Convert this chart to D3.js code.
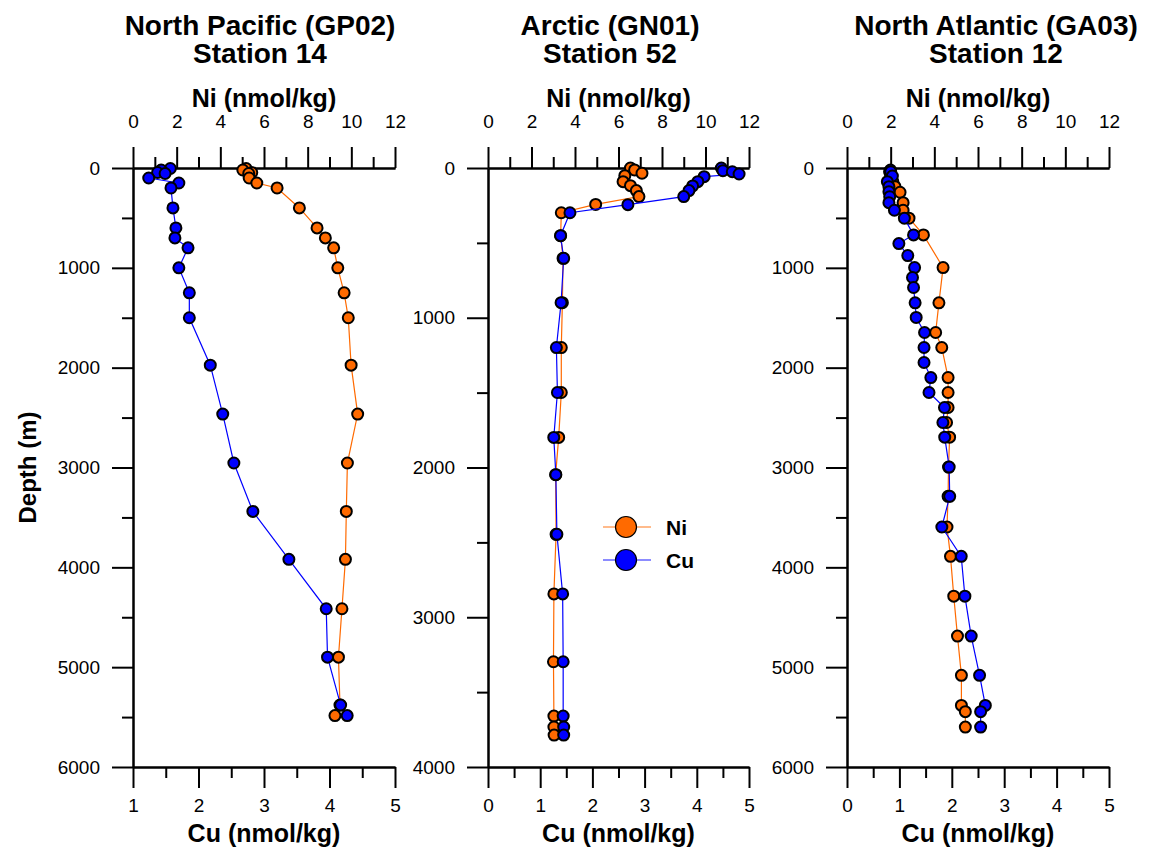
<!DOCTYPE html>
<html><head><meta charset="utf-8">
<script src="https://cdn.jsdelivr.net/npm/d3@7"></script>
<style>
body{margin:0;background:#fff}
svg{display:block}
text{font-family:"Liberation Sans",Arial,Helvetica,sans-serif;fill:#000}
</style>
</head><body>
<svg id="chart" width="1149" height="857"></svg>
<script>
// ---------- data ----------
const panelTitles = [["North Pacific (GP02)", "Station 14"], ["Arctic (GN01)", "Station 52"], ["North Atlantic (GA03)", "Station 12"]];
const niTicks = [0, 2, 4, 6, 8, 10, 12];
const cuTicksP1 = [1, 2, 3, 4, 5];
const cuTicksP23 = [0, 1, 2, 3, 4, 5];
const depthTicks6000 = [0, 1000, 2000, 3000, 4000, 5000, 6000];
const depthTicks4000 = [0, 1000, 2000, 3000, 4000];

// North Pacific GP02 station 14
const p1NiDepth = [5, 20, 45, 55, 100, 150, 200, 400, 600, 700, 800, 1000, 1250, 1500, 1975, 2465, 2955, 3440, 3920, 4415, 4900, 5380, 5485];
const p1Ni = [5.18, 5.03, 5.44, 5.30, 5.32, 5.67, 6.60, 7.62, 8.43, 8.81, 9.19, 9.38, 9.67, 9.86, 9.99, 10.29, 9.82, 9.77, 9.73, 9.57, 9.41, 9.48, 9.25];
const p1CuDepth = [5, 20, 45, 55, 100, 150, 200, 400, 600, 700, 800, 1000, 1250, 1500, 1975, 2465, 2955, 3440, 3920, 4415, 4900, 5380, 5485];
const p1Cu = [1.57, 1.43, 1.375, 1.49, 1.24, 1.70, 1.58, 1.61, 1.655, 1.64, 1.84, 1.70, 1.86, 1.86, 2.18, 2.37, 2.54, 2.83, 3.38, 3.95, 3.97, 4.17, 4.27];

// Arctic GN01 station 52
const p2NiDepth = [0, 13, 35, 51, 91, 118, 151, 191, 243, 299, 452, 603, 899, 1199, 1499, 1799, 2048, 2446, 2844, 3297, 3660, 3733, 3787];
const p2Ni = [6.55, 6.74, 7.08, 6.29, 6.21, 6.55, 6.82, 6.94, 4.95, 3.37, 3.34, 3.45, 3.42, 3.37, 3.37, 3.25, 3.11, 3.13, 3.03, 3.01, 3.03, 3.03, 3.04];
const p2CuDepth = [0, 18, 25, 40, 58, 91, 120, 151, 191, 245, 299, 452, 603, 899, 1199, 1499, 1799, 2048, 2446, 2844, 3297, 3660, 3733, 3787];
const p2Cu = [4.47, 4.50, 4.68, 4.81, 4.14, 4.02, 3.92, 3.85, 3.75, 2.68, 1.57, 1.39, 1.45, 1.40, 1.31, 1.33, 1.26, 1.30, 1.32, 1.43, 1.44, 1.44, 1.45, 1.45];

// North Atlantic GA03 station 12
const p3NiDepth = [37, 80, 137, 187, 243, 347, 423, 503, 670, 997, 1351, 1648, 1798, 2099, 2249, 2399, 2549, 2696, 2996, 3289, 3596, 3890, 4289, 4689, 5082, 5383, 5446, 5600];
const p3Ni = [1.95, 2.00, 2.10, 2.20, 2.43, 2.57, 2.57, 2.84, 3.50, 4.40, 4.21, 4.06, 4.34, 4.63, 4.63, 4.63, 4.56, 4.70, 4.65, 4.63, 4.58, 4.74, 4.89, 5.06, 5.24, 5.24, 5.42, 5.42];
const p3CuDepth = [20, 37, 80, 137, 187, 237, 287, 347, 423, 503, 670, 757, 877, 997, 1097, 1197, 1351, 1497, 1648, 1798, 1948, 2099, 2249, 2399, 2549, 2696, 2996, 3289, 3596, 3890, 4289, 4689, 5082, 5383, 5446, 5600];
const p3Cu = [0.83, 0.834, 0.866, 0.77, 0.80, 0.80, 0.815, 0.80, 0.905, 1.095, 1.27, 0.99, 1.16, 1.29, 1.25, 1.27, 1.30, 1.32, 1.48, 1.47, 1.47, 1.60, 1.565, 1.86, 1.83, 1.865, 1.95, 1.96, 1.81, 2.18, 2.25, 2.37, 2.53, 2.64, 2.55, 2.55];

const legendLabels = ["Ni", "Cu"];

// ---------- layout ----------
const NI_COLOR = "#ff6a00", CU_COLOR = "#0000ff";
const svg = d3.select("#chart");
const plotTop = 168, plotBottom = 767;
const FONT_TICK = 19;

const panels = [
  {x0: 133, x1: 395, titleX: 260, depthMax: 6000, depthTicks: depthTicks6000, cuDomain: [1, 5], cuTicks: cuTicksP1,
   niD: p1NiDepth, ni: p1Ni, cuD: p1CuDepth, cu: p1Cu, title: panelTitles[0]},
  {x0: 488, x1: 749, titleX: 610, depthMax: 4000, depthTicks: depthTicks4000, cuDomain: [0, 5], cuTicks: cuTicksP23,
   niD: p2NiDepth, ni: p2Ni, cuD: p2CuDepth, cu: p2Cu, title: panelTitles[1]},
  {x0: 847, x1: 1109, titleX: 996, depthMax: 6000, depthTicks: depthTicks6000, cuDomain: [0, 5], cuTicks: cuTicksP23,
   niD: p3NiDepth, ni: p3Ni, cuD: p3CuDepth, cu: p3Cu, title: panelTitles[2]}
];

function styleAxis(g) {
  g.selectAll("path").attr("stroke", "#000").attr("stroke-width", 2);
  g.selectAll("line").attr("stroke", "#000").attr("stroke-width", 2);
  g.selectAll("text").attr("font-size", FONT_TICK).attr("font-family", "Liberation Sans, Arial, sans-serif").attr("fill", "#000");
}

function minorsOf(majors) {
  const out = [];
  for (let i = 0; i < majors.length - 1; i++) out.push((majors[i] + majors[i + 1]) / 2);
  return out;
}

panels.forEach((p, idx) => {
  const y = d3.scaleLinear().domain([0, p.depthMax]).range([plotTop, plotBottom]);
  const xNi = d3.scaleLinear().domain([0, 12]).range([p.x0, p.x1]);
  const xCu = d3.scaleLinear().domain(p.cuDomain).range([p.x0, p.x1]);
  const g = svg.append("g");

  // minor ticks
  g.append("g").attr("transform", `translate(${p.x0},0)`)
    .call(d3.axisLeft(y).tickValues(minorsOf(p.depthTicks)).tickSize(11).tickSizeOuter(0).tickFormat(""))
    .call(styleAxis);
  g.append("g").attr("transform", `translate(0,${plotTop})`)
    .call(d3.axisTop(xNi).tickValues(minorsOf(niTicks)).tickSize(11).tickSizeOuter(0).tickFormat(""))
    .call(styleAxis);
  g.append("g").attr("transform", `translate(0,${plotBottom})`)
    .call(d3.axisBottom(xCu).tickValues(minorsOf(p.cuTicks)).tickSize(11).tickSizeOuter(0).tickFormat(""))
    .call(styleAxis);

  // major ticks
  g.append("g").attr("transform", `translate(${p.x0},0)`)
    .call(d3.axisLeft(y).tickValues(p.depthTicks).tickSize(21).tickSizeOuter(0).tickPadding(12).tickFormat(d3.format("d")))
    .call(styleAxis);
  g.append("g").attr("transform", `translate(0,${plotTop})`)
    .call(d3.axisTop(xNi).tickValues(niTicks).tickSize(21).tickSizeOuter(0).tickPadding(19).tickFormat(d3.format("d")))
    .call(styleAxis);
  g.append("g").attr("transform", `translate(0,${plotBottom})`)
    .call(d3.axisBottom(xCu).tickValues(p.cuTicks).tickSize(21).tickSizeOuter(0).tickPadding(11).tickFormat(d3.format("d")))
    .call(styleAxis);

  // titles
  const cx = (p.x0 + p.x1) / 2;
  g.append("text").attr("x", p.titleX).attr("y", 35).attr("text-anchor", "middle")
    .attr("font-size", 28).attr("font-weight", "bold").text(p.title[0]);
  g.append("text").attr("x", p.titleX).attr("y", 63).attr("text-anchor", "middle")
    .attr("font-size", 28).attr("font-weight", "bold").text(p.title[1]);
  g.append("text").attr("x", cx).attr("y", 107).attr("text-anchor", "middle")
    .attr("font-size", 25).attr("font-weight", "bold").text("Ni (nmol/kg)");
  g.append("text").attr("x", cx).attr("y", 842).attr("text-anchor", "middle")
    .attr("font-size", 25).attr("font-weight", "bold").text("Cu (nmol/kg)");

  // series
  const niData = p.niD.map((d, i) => ({d, v: p.ni[i]}));
  const cuData = p.cuD.map((d, i) => ({d, v: p.cu[i]}));
  const niLine = d3.line().x(o => xNi(o.v)).y(o => y(o.d));
  const cuLine = d3.line().x(o => xCu(o.v)).y(o => y(o.d));

  g.append("path").datum(niData).attr("d", niLine).attr("fill", "none").attr("stroke", NI_COLOR).attr("stroke-width", 1.2);
  g.selectAll(".ni").data(niData).join("circle").attr("class", "ni")
    .attr("cx", o => xNi(o.v)).attr("cy", o => y(o.d)).attr("r", 5.5)
    .attr("fill", NI_COLOR).attr("stroke", "#000").attr("stroke-width", 2);
  g.append("path").datum(cuData).attr("d", cuLine).attr("fill", "none").attr("stroke", CU_COLOR).attr("stroke-width", 1.2);
  g.selectAll(".cu").data(cuData).join("circle").attr("class", "cu")
    .attr("cx", o => xCu(o.v)).attr("cy", o => y(o.d)).attr("r", 5.5)
    .attr("fill", CU_COLOR).attr("stroke", "#000").attr("stroke-width", 2);
});

// Depth label
svg.append("text").attr("transform", `translate(36,${(plotTop + plotBottom) / 2}) rotate(-90)`)
  .attr("text-anchor", "middle").attr("font-size", 24).attr("font-weight", "bold").text("Depth (m)");

// Legend (in Arctic panel)
const legendColors = [NI_COLOR, CU_COLOR];
const legendLineColors = ["#ffa466", "#6666ff"];
legendLabels.forEach((lab, i) => {
  const ly = 527 + i * 33;
  const lg = svg.append("g");
  lg.append("line").attr("x1", 603).attr("x2", 651).attr("y1", ly).attr("y2", ly)
    .attr("stroke", legendLineColors[i]).attr("stroke-width", 1.5);
  lg.append("circle").attr("cx", 626).attr("cy", ly).attr("r", 10.5)
    .attr("fill", legendColors[i]).attr("stroke", "#000").attr("stroke-width", 1.2);
  lg.append("text").attr("x", 666).attr("y", ly + 8).attr("font-size", 21).attr("font-weight", "bold").text(lab);
});
</script>
</body></html>
